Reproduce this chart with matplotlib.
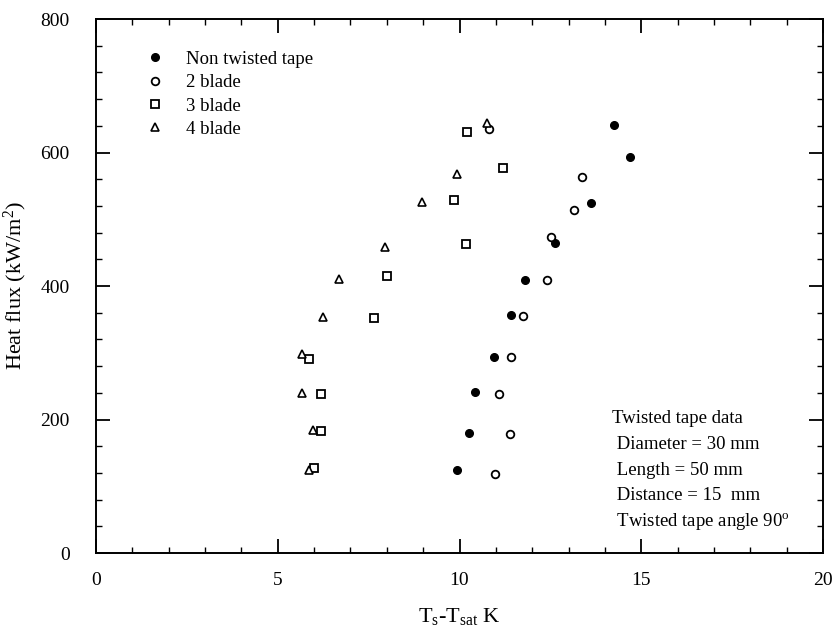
import numpy as np
import matplotlib.pyplot as plt
from matplotlib.ticker import MultipleLocator

plt.rcParams['font.family'] = ['Liberation Serif', 'DejaVu Serif']
plt.rcParams['mathtext.fontset'] = 'custom'
plt.rcParams['mathtext.rm'] = 'Liberation Serif'
plt.rcParams['mathtext.it'] = 'Liberation Serif:italic'

# wall superheat (K) and heat flux (kW/m2) for each insert
plain_dt = [9.92, 10.27, 10.43, 10.95, 11.42, 11.81, 12.63, 13.62, 14.68, 14.25]
plain_q = [124, 180, 241, 294, 356, 409, 464, 524, 594, 641]

blade2_dt = [10.98, 11.39, 11.09, 11.41, 11.74, 12.41, 12.51, 13.14, 13.36, 10.82]
blade2_q = [118, 178, 238, 294, 355, 409, 474, 514, 563, 635]

blade3_dt = [6.0, 6.19, 6.19, 5.86, 7.66, 8.0, 10.18, 9.84, 11.2, 10.21]
blade3_q = [127, 183, 238, 290, 352, 415, 463, 529, 577, 631]

blade4_dt = [5.86, 5.98, 5.68, 5.68, 6.24, 6.69, 7.95, 8.98, 9.92, 10.75]
blade4_q = [125, 184, 239, 298, 354, 411, 459, 526, 568, 644]

fig = plt.figure(figsize=(8.4, 6.42), dpi=100)
ax = fig.add_axes([0.1143, 0.1386, 0.8655, 0.8318])

ms = 5.5
ax.plot(plain_dt, plain_q, 'o', color='black', ms=ms, label='Non twisted tape')
ax.plot(blade2_dt, blade2_q, 'o', mfc='white', mec='black', mew=1.3, ms=ms, label='2 blade')
ax.plot(blade3_dt, blade3_q, 's', mfc='white', mec='black', mew=1.3, ms=ms, label='3 blade')
ax.plot(blade4_dt, blade4_q, '^', mfc='white', mec='black', mew=1.2, ms=ms, label='4 blade')

ax.set_xlim(0, 20)
ax.set_ylim(0, 800)
ax.xaxis.set_major_locator(MultipleLocator(5))
ax.xaxis.set_minor_locator(MultipleLocator(1))
ax.yaxis.set_major_locator(MultipleLocator(200))
ax.yaxis.set_minor_locator(MultipleLocator(40))
ax.tick_params(which='both', direction='in', top=True, right=True, labelsize=14)
ax.tick_params(which='major', length=10, width=1.3)
ax.tick_params(which='minor', length=4, width=1)
ax.tick_params(axis='y', which='major', pad=19)
ax.tick_params(axis='x', which='major', pad=14)
for s in ax.spines.values():
    s.set_linewidth(1.4)

ax.set_xlabel(r'T$_\mathrm{s}$-T$_\mathrm{sat}$ K', fontsize=16, labelpad=12)
ax.set_ylabel(r'Heat flux (kW/m$^2$)', fontsize=16, labelpad=8)

ax.legend(loc='upper left', bbox_to_anchor=(0.039, 0.972), frameon=False,
          fontsize=13.5, handletextpad=0.9, labelspacing=0.33, handlelength=1.5)

info = ['Twisted tape data', ' Diameter = 30 mm', ' Length = 50 mm',
        ' Distance = 15  mm', r' Twisted tape angle 90$^\mathrm{o}$']
for i, line in enumerate(info):
    ax.text(14.2, 201 - i * 38.5, line, fontsize=13.5, va='center', ha='left')

fig.savefig('out.png', dpi=100)
